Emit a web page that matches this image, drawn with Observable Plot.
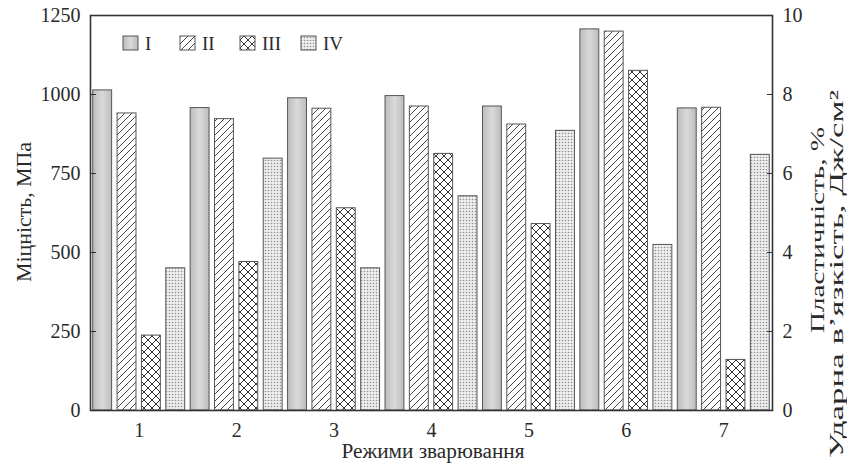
<!DOCTYPE html>
<html><head><meta charset="utf-8">
<script src="https://cdn.jsdelivr.net/npm/d3@7"></script>
<script src="https://cdn.jsdelivr.net/npm/@observablehq/plot@0.6"></script>
<style>
body{margin:0;background:#fff;font-family:"Liberation Serif",serif}
#chart{position:relative;width:847px;height:465px;overflow:hidden}
</style>
</head><body><div id="chart"></div>
<script>
// ---- data ----
const groups = [1, 2, 3, 4, 5, 6, 7];
const series = ["I", "II", "III", "IV"];
const valuesI   = [1013, 957, 988, 995, 962, 1206, 956];
const valuesII  = [940, 922, 955, 962, 905, 1199, 958];
const valuesIII = [237, 470, 640, 812, 590, 1075, 160];
const valuesIV  = [450, 797, 450, 678, 885, 524, 809];
const yTicks = [0, 250, 500, 750, 1000, 1250];
const rightTickDivisor = 125; // 1250 MPa <-> 10 (% / Дж/см²)
const xLabel = "Режими зварювання";
const yLabelLeft = "Міцність, МПа";
const yLabelRight1 = "Пластичність, %";
const yLabelRight2 = "Ударна в’язкість, Дж/см²";

const seriesValues = [valuesI, valuesII, valuesIII, valuesIV];
const fills = ["url(#gradI)", "url(#hatchII)", "url(#crossIII)", "url(#dotsIV)"];
const data = groups.flatMap((g, i) => series.map((s, j) => ({g, s, j, v: seriesValues[j][i]})));
const pad = 0.028;

const barMarks = series.map((s, j) => Plot.rectY(data.filter(d => d.j === j), {
  x1: d => d.g - 0.5 + d.j / 4 + pad,
  x2: d => d.g - 0.5 + (d.j + 1) / 4 - pad,
  y1: 0, y2: "v",
  fill: fills[j], stroke: "#555", strokeWidth: 1
}));

const plot = Plot.plot({
  width: 847, height: 465,
  marginLeft: 90, marginRight: 75, marginTop: 15, marginBottom: 55,
  style: {fontFamily: '"Liberation Serif", serif', fontSize: "20px", color: "#2a2a2a", background: "#fff", overflow: "visible"},
  x: {domain: [0.5, 7.5]},
  y: {domain: [0, 1250]},
  marks: [
    ...barMarks,
    Plot.frame({stroke: "#333", strokeWidth: 1.6}),
    Plot.axisY({anchor: "left", ticks: yTicks, tickSize: -6, tickPadding: 16, tickFormat: d => String(d), label: null, stroke: "#333"}),
    Plot.axisY({anchor: "right", ticks: yTicks, tickSize: -6, tickPadding: 16, tickFormat: d => String(d / rightTickDivisor), label: null, stroke: "#333"}),
    Plot.axisX({ticks: groups, tickSize: 0, tickPadding: 12, tickFormat: d => String(d), label: null})
  ]
});

// patterns
const svg = d3.select(plot);
const defs = svg.insert("defs", ":first-child");
const g1 = defs.append("linearGradient").attr("id", "gradI").attr("x1", 0).attr("x2", 1).attr("y1", 0).attr("y2", 0);
g1.append("stop").attr("offset", "0%").attr("stop-color", "#bcbcbc");
g1.append("stop").attr("offset", "50%").attr("stop-color", "#dadada");
g1.append("stop").attr("offset", "100%").attr("stop-color", "#bcbcbc");
const p2 = defs.append("pattern").attr("id", "hatchII").attr("patternUnits", "userSpaceOnUse").attr("width", 7).attr("height", 7);
p2.append("rect").attr("width", 7).attr("height", 7).attr("fill", "#fff");
p2.append("path").attr("d", "M-1,1 L1,-1 M0,7 L7,0 M6,8 L8,6").attr("stroke", "#333").attr("stroke-width", 0.9);
const p3 = defs.append("pattern").attr("id", "crossIII").attr("patternUnits", "userSpaceOnUse").attr("width", 8).attr("height", 8);
p3.append("rect").attr("width", 8).attr("height", 8).attr("fill", "#fff");
p3.append("path").attr("d", "M0,0 L8,8 M8,0 L0,8").attr("stroke", "#333").attr("stroke-width", 1);
const p4 = defs.append("pattern").attr("id", "dotsIV").attr("patternUnits", "userSpaceOnUse").attr("width", 3).attr("height", 3);
p4.append("rect").attr("width", 3).attr("height", 3).attr("fill", "#eeeeee");
p4.append("circle").attr("cx", 1.5).attr("cy", 1.5).attr("r", 0.8).attr("fill", "#8f8f8f");

// axis titles
const tcol = "#2a2a2a";
function title(x, y, rot, anchor, len, size, txt) {
  svg.append("text").attr("transform", `translate(${x},${y})` + (rot ? " rotate(-90)" : ""))
    .attr("text-anchor", anchor).attr("dominant-baseline", "central")
    .attr("font-size", size).attr("fill", tcol)
    .attr("textLength", len).attr("lengthAdjust", "spacingAndGlyphs").text(txt);
}
title(24, 212, true, "middle", 140, 20, yLabelLeft);
title(817, 230, true, "middle", 206, 19, yLabelRight1);
title(836, 90, true, "end", 368, 19, yLabelRight2);
title(433, 451, false, "middle", 183, 20, xLabel);

// legend
const lx = [123, 180, 240, 301];
series.forEach((s, j) => {
  svg.append("rect").attr("x", lx[j]).attr("y", 36).attr("width", 15).attr("height", 14)
    .attr("fill", fills[j]).attr("stroke", "#555");
  svg.append("text").attr("x", lx[j] + 22).attr("y", 43).attr("text-anchor", "start").attr("dominant-baseline", "central")
    .attr("font-size", 19).attr("fill", tcol).text(s);
});

document.getElementById("chart").appendChild(plot);
</script>
</body></html>
